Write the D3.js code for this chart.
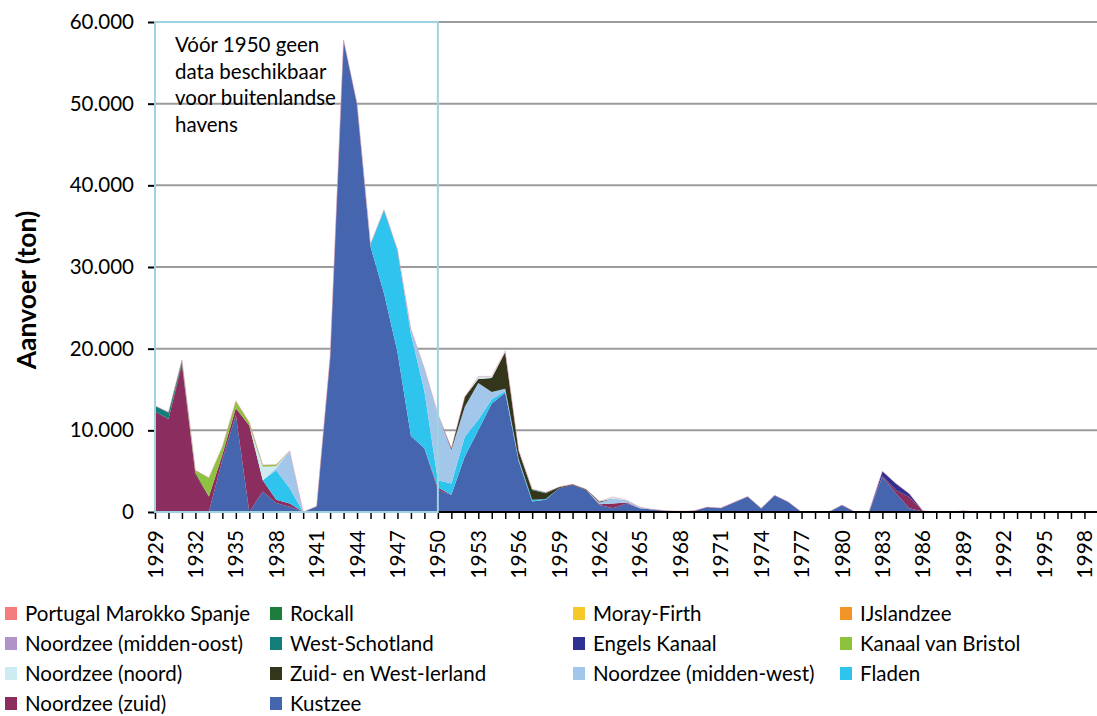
<!DOCTYPE html>
<html><head><meta charset="utf-8">
<script src="https://cdn.jsdelivr.net/npm/d3@7"></script>
<style>
body{margin:0;background:#fff;}
text{font-family:Lato,"Open Sans",sans-serif;}
</style></head>
<body><svg id="c" width="1097" height="716"></svg>
<script>
// ---------- data (tonnes per year, 1929-1998) ----------
const years = d3.range(1929, 1999);
const tickLabelsY = [0, 10000, 20000, 30000, 40000, 50000, 60000];
const labelYears = d3.range(1929, 1999, 3);

// values listed per year 1929..1998 (70 values each)
const kustzee = [
  0,0,0,0,0,6400,11900,0,2500,1100,           // 1929-1938
  650,0,700,19000,57800,50000,32500,26800,19600,9300, // 1939-1948
  7800,2700,2100,6800,10000,13300,14600,6200,1300,1500, // 1949-1958
  2900,3300,2700,850,450,1050,450,300,150,100, // 1959-1968
  150,600,500,1200,1900,450,2050,1250,0,0,     // 1969-1978
  0,850,0,0,4300,2300,450,50,0,0,              // 1979-1988
  0,0,0,0,0,0,0,0,0,0                          // 1989-1998
];
const noordzeeZuid = [
  12300,11400,18000,4600,1900,600,800,10600,1400,400,
  400,0,0,0,0,0,0,0,0,0,
  0,300,0,0,0,0,0,0,0,0,
  0,0,0,100,600,100,0,0,0,0,
  0,0,0,0,0,0,0,0,0,0,
  0,0,0,0,100,400,1400,50,0,0,
  0,0,0,0,0,0,0,0,0,0
];
const fladen = [
  0,0,0,0,0,0,0,0,0,3600,
  1850,0,0,0,0,0,300,10200,12500,12500,
  7000,900,1400,2400,1300,500,200,200,200,100,
  0,0,0,0,0,0,0,0,0,0,
  0,0,0,0,0,0,0,0,0,0,
  0,0,0,0,0,0,0,0,0,0,
  0,0,0,0,0,0,0,0,0,0
];
const noordzeeMiddenWest = [
  0,0,0,0,0,0,0,0,0,300,
  4600,0,0,0,0,0,0,0,0,600,
  2800,8100,4100,3700,4500,900,300,100,0,0,
  0,0,0,200,600,300,150,0,0,0,
  0,0,0,0,0,0,0,0,0,0,
  0,0,0,0,0,0,0,0,0,0,
  0,0,0,0,0,0,0,0,0,0
];
const zuidWestIerland = [
  0,0,300,200,0,0,0,0,0,0,
  0,0,0,0,0,0,0,0,0,0,
  0,0,200,1200,500,1700,4500,1000,1200,700,
  150,100,100,150,0,0,0,0,0,0,
  0,0,0,0,0,0,0,0,0,0,
  0,0,0,0,0,0,0,0,0,0,
  0,0,0,0,0,0,0,0,0,0
];
const noordzeeNoord = [
  0,0,0,0,0,0,0,0,1650,200,
  0,0,0,0,0,0,0,0,0,0,
  0,0,0,0,300,200,150,50,0,0,
  0,0,0,0,200,0,0,0,0,0,
  0,0,0,0,0,0,0,0,0,0,
  0,0,0,0,0,0,0,0,0,0,
  0,0,0,0,0,0,0,0,0,0
];
const kanaalBristol = [
  0,0,0,300,2300,1000,900,400,200,200,
  0,0,0,0,0,0,0,0,0,0,
  0,0,0,0,0,0,0,0,0,0,
  0,0,0,0,0,0,0,0,0,0,
  0,0,0,0,0,0,0,0,0,0,
  0,0,0,0,0,0,0,0,0,0,
  0,0,0,0,0,0,0,0,0,0
];
const engelsKanaal = [
  0,0,0,0,0,0,0,0,0,0,
  0,0,0,0,0,0,0,0,0,0,
  0,0,0,0,0,0,0,0,0,0,
  0,0,0,0,0,0,0,0,0,0,
  0,0,0,0,0,0,0,0,0,0,
  0,0,0,0,600,800,400,50,0,0,
  150,0,0,0,0,0,0,0,0,0
];
const westSchotland = [
  700,800,300,0,0,0,0,0,0,0,
  0,0,0,0,0,0,0,0,0,0,
  0,0,0,0,0,0,0,0,100,100,
  0,0,0,0,0,0,0,0,0,0,
  0,0,0,0,0,0,0,0,0,0,
  0,0,0,0,0,0,0,0,0,0,
  0,0,0,0,0,0,0,0,0,0
];
const zeros = years.map(() => 0);
const noordzeeMiddenOost = zeros;
const ijslandzee = zeros;
const morayFirth = zeros;
const rockall = zeros;
const portugal = zeros;

// series: name, values, colour — listed bottom-of-stack first
const seriesNames = ["Kustzee","Noordzee (zuid)","Fladen","Noordzee (midden-west)","Zuid- en West-Ierland",
  "Noordzee (noord)","Kanaal van Bristol","Engels Kanaal","West-Schotland","Noordzee (midden-oost)",
  "IJslandzee","Moray-Firth","Rockall","Portugal Marokko Spanje"];
const seriesValues = [kustzee,noordzeeZuid,fladen,noordzeeMiddenWest,zuidWestIerland,
  noordzeeNoord,kanaalBristol,engelsKanaal,westSchotland,noordzeeMiddenOost,
  ijslandzee,morayFirth,rockall,portugal];
const seriesColors = ["#4565ae","#8b2d5e","#2ec4ee","#a3c7ea","#33361a",
  "#cdebf1","#8dc23f","#2e3192","#147f7a","#b194c7",
  "#f39526","#f5c927","#1e7d3c","#f47c7c"];
// legend order (row by row, 4 columns)
const legendOrder = ["Portugal Marokko Spanje","Rockall","Moray-Firth","IJslandzee",
  "Noordzee (midden-oost)","West-Schotland","Engels Kanaal","Kanaal van Bristol",
  "Noordzee (noord)","Zuid- en West-Ierland","Noordzee (midden-west)","Fladen",
  "Noordzee (zuid)","Kustzee"];
const annotationLines = ["Vóór 1950 geen","data beschikbaar","voor buitenlandse","havens"];

// ---------- drawing ----------
const svg = d3.select("#c");
const x = d3.scaleLinear().domain([1929, 1999]).range([155, 155 + 70 * 13.47]);
const y = d3.scaleLinear().domain([0, 60000]).range([512, 22]);

const table = years.map((yr, i) => {
  const row = {year: yr};
  seriesNames.forEach((n, k) => row[n] = seriesValues[k][i]);
  return row;
});
const stacked = d3.stack().keys(seriesNames)(table);
const colorOf = d3.scaleOrdinal().domain(seriesNames).range(seriesColors);

// gridlines
svg.append("g").selectAll("line").data(tickLabelsY.filter(d => d > 0)).join("line")
  .attr("x1", 155).attr("x2", 1097)
  .attr("y1", d => y(d)).attr("y2", d => y(d))
  .attr("stroke", "#9b9b9b").attr("stroke-width", 2);

// areas
const area = d3.area().x(d => x(d.data.year)).y0(d => y(d[0])).y1(d => y(d[1]));
svg.append("g").selectAll("path").data(stacked).join("path")
  .attr("d", area).attr("fill", d => colorOf(d.key));
// thin outline on top of the stack
const topLayer = stacked[stacked.length - 1];
svg.append("path").datum(topLayer)
  .attr("d", d3.line().x(d => x(d.data.year)).y(d => y(d[1])))
  .attr("fill", "none").attr("stroke", "#e8a0b0").attr("stroke-width", 0.8).attr("opacity", 0.7);

// y axis
const yAxis = d3.axisLeft(y).tickValues(tickLabelsY).tickSize(7).tickPadding(14)
  .tickFormat(d => d3.format(",")(d).replace(/,/g, "."));
const gy = svg.append("g").attr("transform", "translate(155,0)").call(yAxis);
gy.select(".domain").remove();
gy.selectAll(".tick line").attr("stroke", "#000").attr("stroke-width", 2);
gy.selectAll(".tick text").attr("font-family", "Lato").attr("font-size", 20.5).attr("fill", "#000");

// x axis
const xAxis = d3.axisBottom(x).tickValues(d3.range(1929, 2000)).tickSize(7).tickFormat("");
const gx = svg.append("g").attr("transform", "translate(0,512)").call(xAxis);
gx.select(".domain").remove();
gx.append("line").attr("x1", 155).attr("x2", 1097).attr("y1", 0).attr("y2", 0)
  .attr("stroke", "#000").attr("stroke-width", 2);
gx.selectAll(".tick line").attr("stroke", "#000").attr("stroke-width", 1.5);
svg.append("g").selectAll("text").data(labelYears).join("text")
  .attr("transform", d => `translate(${x(d)},530) rotate(-90)`)
  .attr("text-anchor", "end").attr("dy", "0.36em")
  .attr("font-size", 21).attr("fill", "#000").text(d => d);

// highlight box
svg.append("rect").attr("x", x(1929)).attr("y", y(60000))
  .attr("width", x(1950) - x(1929)).attr("height", y(0) - y(60000))
  .attr("fill", "none").attr("stroke", "#9ed3df").attr("stroke-width", 2);

// annotation
svg.append("g").selectAll("text").data(annotationLines).join("text")
  .attr("x", 175).attr("y", (d, i) => 52 + i * 26.5)
  .attr("font-size", 20.5).attr("fill", "#000").text(d => d);

// y title
svg.append("text").attr("transform", "translate(27,290) rotate(-90)")
  .attr("text-anchor", "middle").attr("dy", "0.35em")
  .attr("font-size", 26.5).attr("font-weight", "bold").text("Aanvoer (ton)");

// legend
const colX = [5, 270, 573, 840];
const lg = svg.append("g").selectAll("g").data(legendOrder).join("g")
  .attr("transform", (d, i) => `translate(${colX[i % 4]},${607 + Math.floor(i / 4) * 30})`);
lg.append("rect").attr("width", 12).attr("height", 13).attr("fill", d => colorOf(d));
lg.append("text").attr("x", 20).attr("y", 7).attr("dy", "0.36em")
  .attr("font-size", 20.5).attr("fill", "#000").text(d => d);
</script></body></html>
